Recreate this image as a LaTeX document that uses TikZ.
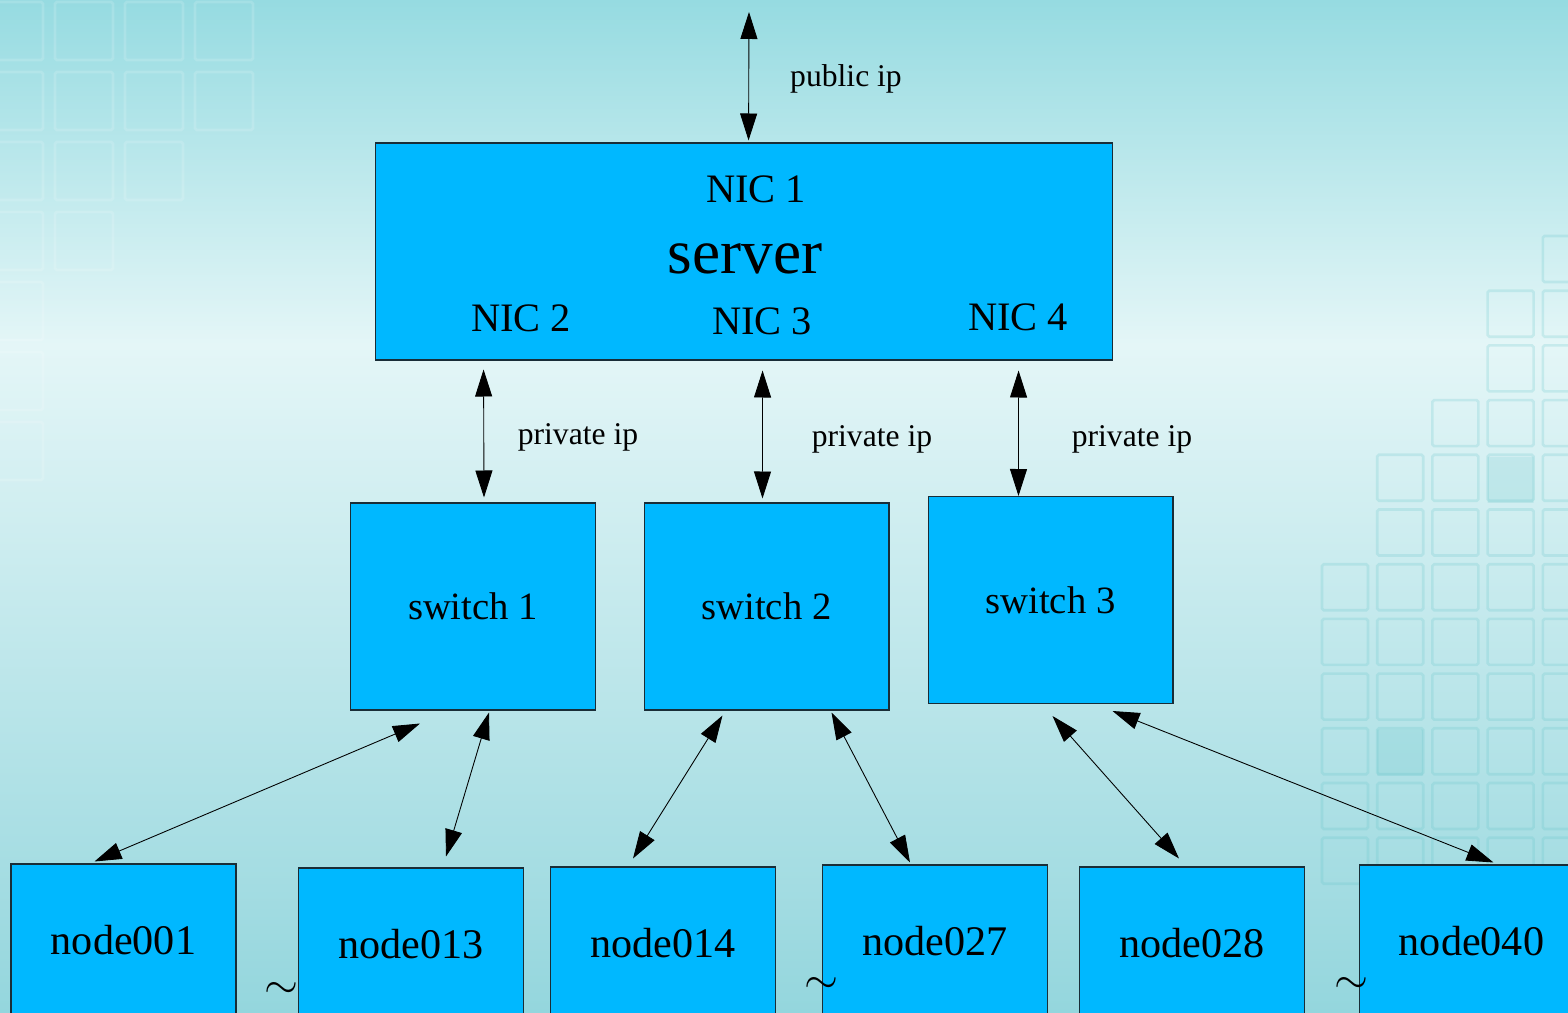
\documentclass[tikz,border=0pt]{standalone}
\usepackage{fontspec}
\setmainfont{Liberation Serif}
\usepackage{tikz}
\usepackage{xcolor}
\usetikzlibrary{arrows.meta}

\definecolor{boxblue}{RGB}{0,184,255}
\definecolor{boxline}{RGB}{25,45,55}
\definecolor{bgtop}{RGB}{150,219,225}
\definecolor{bgmid}{RGB}{228,246,247}
\definecolor{bgbot}{RGB}{148,214,221}
\definecolor{tileline}{RGB}{95,195,200}

\begin{document}
\begin{tikzpicture}[x=0.02cm, y=-0.02cm,
        >={Triangle[length=0.54cm, width=0.34cm]},
        box/.style={draw=boxline, fill=boxblue, line width=0.6pt, inner sep=0pt},
        hostbox/.style={box, minimum width=4.5cm, minimum height=3.04cm, font=\fontsize{24}{28}\selectfont},
        switchbox/.style={box, minimum width=4.9cm, minimum height=4.14cm, font=\fontsize{22}{26}\selectfont},
        nic/.style={inner sep=0pt, font=\fontsize{23}{27}\selectfont},
        iplabel/.style={inner sep=0pt, font=\fontsize{18}{21}\selectfont},
        swung/.style={inner sep=0pt, font=\fontsize{29}{32}\selectfont},
        link/.style={<->, line width=0.5pt},
        tilelight/.style={draw=white, line width=1.5pt, opacity=0.15, rounded corners=1pt},
        tiledark/.style={draw=tileline, line width=1.5pt, opacity=0.22, rounded corners=1pt}]
        \clip (0,0) rectangle (1568,1013);
        
        % background
        \shade[top color=bgtop, bottom color=bgmid] (0,0) rectangle (1568,345);
        \shade[top color=bgmid, bottom color=bgbot] (0,345) rectangle (1568,1013);
        \foreach \c/\r in {0/0, 1/0, 2/0, 3/0, 0/1, 1/1, 2/1, 3/1, 0/2, 1/2, 2/2, 0/3, 1/3, 0/4, 0/5, 0/6}
            \draw[tilelight] (-15+70*\c, 2+70*\r) rectangle ++(58,58);
        \foreach \c/\r in {4/0, 3/1, 4/1, 3/2, 4/2, 2/3, 3/3, 4/3, 1/4, 2/4, 3/4, 4/4, 1/5, 2/5, 3/5, 4/5}
            \draw[tiledark] (1322+55.2*\c, 236+54.7*\r) rectangle ++(46,46);
        \foreach \c in {0, 1, 2, 3, 4}
            \foreach \r in {6, 7, 8, 9, 10, 11}
                \draw[tiledark] (1322+55.2*\c, 236+54.7*\r) rectangle ++(46,46);
        \fill[tileline, opacity=0.18] (1487.6,456.8) rectangle ++(46,46)
            (1377.2,729.5) rectangle ++(46,46);
        
        % server
        \node[box, minimum width=14.76cm, minimum height=4.34cm] (server) at (744,251.5) {};
        \node[nic] (nic1) at (756,189) {NIC 1};
        \node[inner sep=0pt, font=\fontsize{36}{40}\selectfont] (srvname) at (745,259) {server};
        \node[nic] (nic2) at (521,318) {NIC 2};
        \node[nic] (nic3) at (762,321) {NIC 3};
        \node[nic] (nic4) at (1018,317) {NIC 4};
        
        % switches
        \node[switchbox] (sw1) at (473,606.5) {switch 1};
        \node[switchbox] (sw2) at (766.5,606.5) {switch 2};
        \node[switchbox] (sw3) at (1050.5,600) {switch 3};
        
        % compute nodes
        \node[hostbox] (n001) at (123.5,940) {node001};
        \node[hostbox] (n013) at (411,944) {node013};
        \node[hostbox] (n014) at (663,943) {node014};
        \node[hostbox] (n027) at (935,941) {node027};
        \node[hostbox] (n028) at (1192,943) {node028};
        \node[hostbox] (n040) at (1471.5,941) {node040};
        
        \node[swung] (gap1) at (281,990) {$\sim$};
        \node[swung] (gap2) at (821,985) {$\sim$};
        \node[swung] (gap3) at (1351,985) {$\sim$};
        
        % links
        \coordinate (net) at (749,12);
        \draw[link] (net) -- ([shift={(374,-2)}]server.north west);
        \draw[link] ([shift={(109,9)}]server.south west) -- ([shift={(134,-5)}]sw1.north west);
        \draw[link] ([shift={(388,10)}]server.south west) -- ([shift={(119,-4)}]sw2.north west);
        \draw[link] ([shift={(644,10)}]server.south west) -- ([shift={(91,0)}]sw3.north west);
        
        \node[iplabel] (pub) at (846,79) {public ip};
        \node[iplabel] (priv1) at (578,437) {private ip};
        \node[iplabel] (priv2) at (872,439) {private ip};
        \node[iplabel] (priv3) at (1132,439) {private ip};
        
        \draw[link] ([shift={(70,13)}]sw1.south west) -- ([shift={(84,-2)}]n001.north west);
        \draw[link] ([shift={(139,2)}]sw1.south west) -- ([shift={(148,-11)}]n013.north west);
        \draw[link] ([shift={(79,5)}]sw2.south west) -- ([shift={(83,-8)}]n014.north west);
        \draw[link] ([shift={(188,2)}]sw2.south west) -- ([shift={(88,-2)}]n027.north west);
        \draw[link] ([shift={(125,12)}]sw3.south west) -- ([shift={(100,-8)}]n028.north west);
        \draw[link] ([shift={(185,7)}]sw3.south west) -- ([shift={(135,-2)}]n040.north west);
    \end{tikzpicture}
\end{document}
